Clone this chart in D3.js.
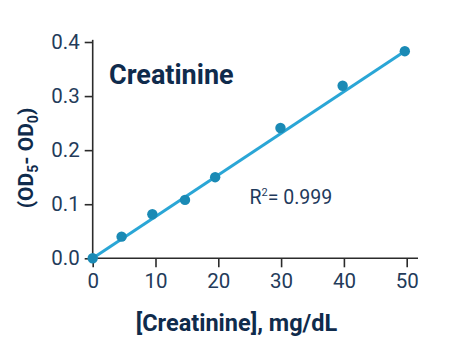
<!DOCTYPE html>
<html><head><meta charset="utf-8">
<script src="https://cdn.jsdelivr.net/npm/d3@7"></script>
<style>
body{margin:0;background:#fff;}
svg{display:block;font-family:Roboto,"Noto Sans",sans-serif;}
</style></head>
<body>
<svg id="chart" width="455" height="359"></svg>
<script>
// Data
const concentration = [0, 4.6, 9.5, 14.7, 19.5, 29.9, 39.8, 49.7];
const deltaOD = [0, 0.040, 0.0815, 0.108, 0.150, 0.241, 0.319, 0.383];
const fitX = [0, 49.7];
const fitY = [0, 0.383];
const xTicks = [0, 10, 20, 30, 40, 50];
const yTicks = [0, 0.1, 0.2, 0.3, 0.4];
const chartTitle = "Creatinine";
const r2Text = "0.999";

const svg = d3.select("#chart");
const x = d3.scaleLinear().domain([0, 50]).range([92.7, 406.7]);
const y = d3.scaleLinear().domain([0, 0.4]).range([258.3, 42]);

// axis lines
const axisColor = "#2b2b2b";
svg.append("line").attr("x1", x(0)).attr("x2", x(51.8)).attr("y1", y(0)).attr("y2", y(0))
  .attr("stroke", axisColor).attr("stroke-width", 1.6);
svg.append("line").attr("x1", x(0)).attr("x2", x(0)).attr("y1", y(0)).attr("y2", y(0.404))
  .attr("stroke", axisColor).attr("stroke-width", 1.6);

const xAxis = svg.append("g").attr("transform", `translate(0,${y(0)})`)
  .call(d3.axisBottom(x).tickValues(xTicks).tickFormat(d3.format("d")).tickSize(9).tickPadding(6).tickSizeOuter(0));
const yAxis = svg.append("g").attr("transform", `translate(${x(0)},0)`)
  .call(d3.axisLeft(y).tickValues(yTicks).tickFormat(d3.format(".1f")).tickSize(8).tickPadding(5).tickSizeOuter(0));
[xAxis, yAxis].forEach(g => {
  g.select(".domain").remove();
  g.selectAll(".tick line").attr("stroke", axisColor).attr("stroke-width", 1.6);
  g.selectAll(".tick text").attr("fill", "#233b5a").style("font-size", "20.5px")
    .style("font-family", "Roboto, sans-serif");
});

// fit line
svg.append("path")
  .datum(fitX.map((d, i) => [d, fitY[i]]))
  .attr("d", d3.line().x(d => x(d[0])).y(d => y(d[1])))
  .attr("fill", "none").attr("stroke", "#2aa6d6").attr("stroke-width", 3);

// points
svg.selectAll("circle.pt").data(concentration.map((d, i) => [d, deltaOD[i]]))
  .join("circle").attr("class", "pt")
  .attr("cx", d => x(d[0])).attr("cy", d => y(d[1])).attr("r", 5.2)
  .attr("fill", "#1a8ab5");

// title
svg.append("text").attr("x", 109).attr("y", 84).text(chartTitle)
  .attr("fill", "#0f2b4c").style("font-size", "27px").style("font-weight", "bold");

// R^2
const r2 = svg.append("text").attr("x", 249.5).attr("y", 203.5).attr("fill", "#1f3a5c").style("font-size", "19.5px");
r2.append("tspan").text("R");
r2.append("tspan").text("2").style("font-size", "11px").attr("dy", -8);
r2.append("tspan").text("= " + r2Text).attr("dy", 8);

// x title
svg.append("text").attr("x", 236.5).attr("y", 331).attr("text-anchor", "middle")
  .attr("fill", "#0f2b4c").style("font-size", "23.5px").style("font-weight", "bold")
  .text("[Creatinine], mg/dL");

// y title
const yt = svg.append("text").attr("transform", "translate(33,158) rotate(-90)")
  .attr("text-anchor", "middle").attr("fill", "#0f2b4c")
  .style("font-size", "21px").style("font-weight", "bold");
yt.append("tspan").text("(OD");
yt.append("tspan").text("5").style("font-size", "14px").attr("dy", 5);
yt.append("tspan").text("- OD").attr("dy", -5);
yt.append("tspan").text("0").style("font-size", "14px").attr("dy", 5);
yt.append("tspan").text(")").attr("dy", -5);
</script>
</body></html>
